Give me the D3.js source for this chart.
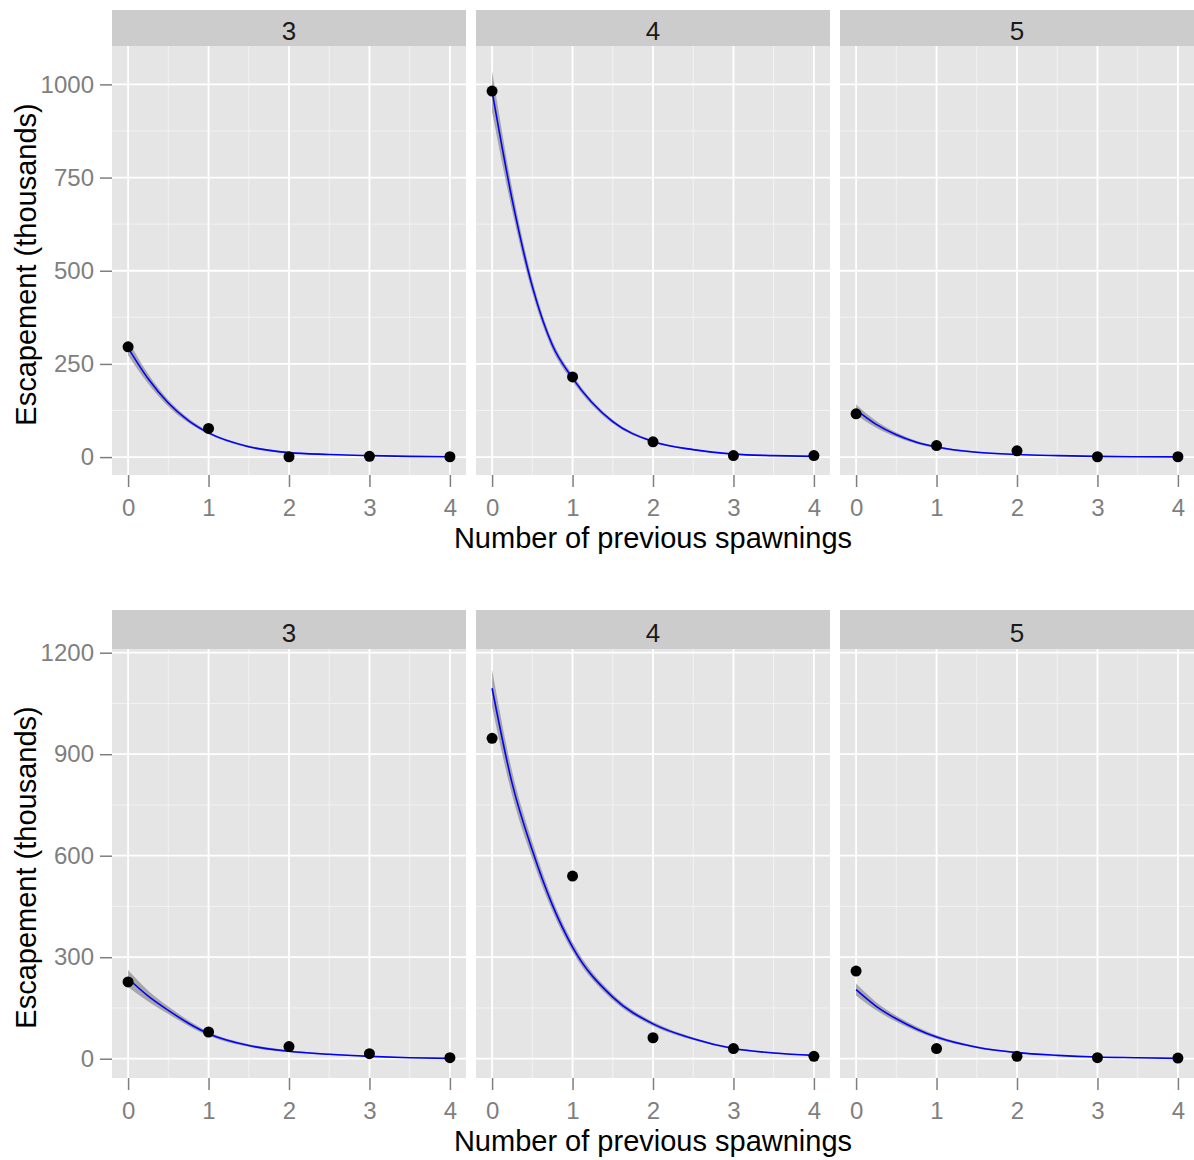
<!DOCTYPE html>
<html lang="en">
<head>
<meta charset="utf-8">
<script src="https://cdn.jsdelivr.net/npm/d3@7"></script>
<style>
  body { margin: 0; background: #fff; }
  text { font-family: "Liberation Sans", Arial, sans-serif; }
</style>
</head>
<body>
<script>
// facet labels and x values
var facets = ["3", "4", "5"];
var spawnings = [0, 1, 2, 3, 4];
var xMinor = [0.5, 1.5, 2.5, 3.5];
var fitX = [0, 0.25, 0.5, 0.75, 1, 1.5, 2, 2.5, 3, 3.5, 4];

// top row
var topTicks = [0, 250, 500, 750, 1000];
var topMinor = [125, 375, 625, 875];
var topObs3 = [296, 77, 1, 2, 1];
var topObs4 = [982, 215, 41, 4, 4];
var topObs5 = [116, 31, 17, 1, 1];
var topFit3 = [293, 210, 145, 98, 65, 28, 12, 7, 4, 2, 1];
var topFit4 = [981, 690, 458, 300, 212, 95, 42, 20, 8, 4, 2];
var topFit5 = [127, 88, 60, 40, 27, 13, 7, 4, 2, 1, 0.5];
var topSe3 = [20, 13, 9, 6, 4, 3, 2, 1, 1, 0.5, 0.5];
var topSe4 = [55, 30, 18, 12, 9, 5, 3, 2, 1, 1, 1];
var topSe5 = [14, 9, 6, 4, 3, 2, 1, 1, 1, 0.5, 0.5];

// bottom row
var botTicks = [0, 300, 600, 900, 1200];
var botMinor = [150, 450, 750, 1050];
var botObs3 = [227, 79, 36, 15, 3];
var botObs4 = [947, 540, 62, 30, 7];
var botObs5 = [259, 30, 7, 3, 2];
var botFit3 = [237, 185, 143, 105, 74, 39, 22, 13, 7, 3, 1];
var botFit4 = [1095, 813, 616, 454, 330, 182, 103, 59, 30, 17, 10];
var botFit5 = [204, 155, 118, 88, 64, 34, 18, 10, 5, 3, 1];
var botSe3 = [25, 16, 11, 8, 6, 4, 3, 2, 1, 1, 0.5];
var botSe4 = [55, 35, 25, 18, 14, 9, 6, 4, 3, 2, 1];
var botSe5 = [18, 12, 9, 7, 5, 3, 2, 1, 1, 0.5, 0.5];

var rows = [
  {stripTop: 10, top: 46, bottom: 475, yDomain: [-48, 1103], ticks: topTicks, minor: topMinor,
   obs: [topObs3, topObs4, topObs5], fit: [topFit3, topFit4, topFit5], se: [topSe3, topSe4, topSe5]},
  {stripTop: 610, top: 649, bottom: 1078, yDomain: [-57, 1211], ticks: botTicks, minor: botMinor,
   obs: [botObs3, botObs4, botObs5], fit: [botFit3, botFit4, botFit5], se: [botSe3, botSe4, botSe5]}
];

var W = 1194, H = 1160;
var panelLeft = [112, 476, 840], panelW = 354;
var fmt = d3.format("d");

var svg = d3.select("body").append("svg")
  .attr("width", W).attr("height", H);

rows.forEach(function(row) {
  var y = d3.scaleLinear().domain(row.yDomain).range([row.bottom, row.top]);
  var ph = row.bottom - row.top;

  facets.forEach(function(f, i) {
    var x = d3.scaleLinear().domain([-0.2, 4.2]).range([panelLeft[i], panelLeft[i] + panelW]);
    var g = svg.append("g");

    // strip
    g.append("rect")
      .attr("x", panelLeft[i]).attr("y", row.stripTop)
      .attr("width", panelW).attr("height", row.top - row.stripTop)
      .attr("fill", "#cccccc");
    g.append("text")
      .attr("x", panelLeft[i] + panelW / 2).attr("y", (row.stripTop + row.top) / 2 + 3)
      .attr("dy", "0.36em").attr("text-anchor", "middle")
      .attr("font-size", 26).attr("fill", "#1a1a1a")
      .text(f);

    // panel background
    g.append("rect")
      .attr("x", panelLeft[i]).attr("y", row.top)
      .attr("width", panelW).attr("height", ph)
      .attr("fill", "#e5e5e5");

    // minor grid
    g.selectAll(".hmin").data(row.minor).enter().append("line")
      .attr("x1", panelLeft[i]).attr("x2", panelLeft[i] + panelW)
      .attr("y1", function(d) { return y(d); }).attr("y2", function(d) { return y(d); })
      .attr("stroke", "#f2f2f2").attr("stroke-width", 1);
    g.selectAll(".vmin").data(xMinor).enter().append("line")
      .attr("y1", row.top).attr("y2", row.bottom)
      .attr("x1", function(d) { return x(d); }).attr("x2", function(d) { return x(d); })
      .attr("stroke", "#f2f2f2").attr("stroke-width", 1);
    // major grid
    g.selectAll(".hmaj").data(row.ticks).enter().append("line")
      .attr("x1", panelLeft[i]).attr("x2", panelLeft[i] + panelW)
      .attr("y1", function(d) { return y(d); }).attr("y2", function(d) { return y(d); })
      .attr("stroke", "#ffffff").attr("stroke-width", 1.8);
    g.selectAll(".vmaj").data(spawnings).enter().append("line")
      .attr("y1", row.top).attr("y2", row.bottom)
      .attr("x1", function(d) { return x(d); }).attr("x2", function(d) { return x(d); })
      .attr("stroke", "#ffffff").attr("stroke-width", 1.8);

    // ribbon + fitted line
    var fitData = fitX.map(function(v, k) {
      return {x: v, fit: row.fit[i][k], se: row.se[i][k]};
    });
    var area = d3.area()
      .x(function(d) { return x(d.x); })
      .y0(function(d) { return y(d.fit - d.se); })
      .y1(function(d) { return y(d.fit + d.se); })
      .curve(d3.curveMonotoneX);
    g.append("path").datum(fitData)
      .attr("d", area).attr("fill", "#8c8c8c").attr("fill-opacity", 0.7);
    var line = d3.line()
      .x(function(d) { return x(d.x); })
      .y(function(d) { return y(d.fit); })
      .curve(d3.curveMonotoneX);
    g.append("path").datum(fitData)
      .attr("d", line).attr("fill", "none")
      .attr("stroke", "#0000ff").attr("stroke-width", 1.6);

    // points
    g.selectAll(".pt").data(row.obs[i]).enter().append("circle")
      .attr("cx", function(d, k) { return x(spawnings[k]); })
      .attr("cy", function(d) { return y(d); })
      .attr("r", 5.5).attr("fill", "#000");

    // x axis
    var xa = svg.append("g")
      .attr("transform", "translate(0," + row.bottom + ")")
      .call(d3.axisBottom(x).tickValues(spawnings).tickFormat(fmt).tickSize(12).tickPadding(12));
    xa.select(".domain").remove();
    xa.selectAll("line").attr("stroke", "#7f7f7f").attr("stroke-width", 1.5);
    xa.selectAll("text").attr("font-size", 24).attr("fill", "#7f7f7f")
      .style("font-family", "'Liberation Sans', Arial, sans-serif");
  });

  // y axis on first panel
  var ya = svg.append("g")
    .attr("transform", "translate(" + panelLeft[0] + ",0)")
    .call(d3.axisLeft(y).tickValues(row.ticks).tickFormat(fmt).tickSize(12).tickPadding(6));
  ya.select(".domain").remove();
  ya.selectAll("line").attr("stroke", "#7f7f7f").attr("stroke-width", 1.5);
  ya.selectAll("text").attr("font-size", 24).attr("fill", "#7f7f7f")
    .style("font-family", "'Liberation Sans', Arial, sans-serif");

  // axis titles
  svg.append("text")
    .attr("x", 653).attr("y", row.bottom + 73)
    .attr("text-anchor", "middle").attr("font-size", 29).attr("fill", "#000")
    .text("Number of previous spawnings");
  svg.append("text")
    .attr("transform", "translate(36," + ((row.top + row.bottom) / 2 + 4) + ") rotate(-90)")
    .attr("text-anchor", "middle").attr("font-size", 29).attr("fill", "#000")
    .text("Escapement (thousands)");
});
</script>
</body>
</html>
